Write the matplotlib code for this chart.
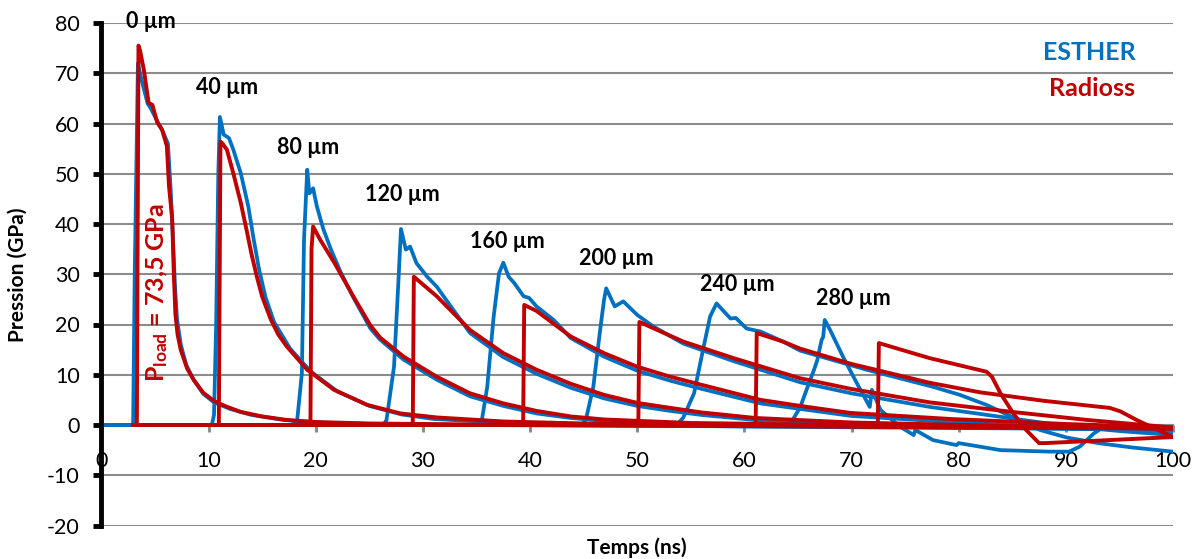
import matplotlib
matplotlib.use("Agg")
import matplotlib.pyplot as plt

plt.rcParams['font.family'] = ['Lato', 'DejaVu Sans']
plt.rcParams['axes.unicode_minus'] = False
plt.rcParams['mathtext.fontset'] = 'custom'
plt.rcParams['mathtext.bf'] = 'Lato:bold'
plt.rcParams['mathtext.rm'] = 'Lato'

# ---------------- data (time in ns, pressure in GPa) ----------------
# ESTHER (blue)
E0_T = [0, 2.95, 3.1, 3.4, 3.7, 4.3, 4.6, 5.2, 5.7, 6.2, 6.45, 6.65, 6.85, 7.05, 7.4, 7.9, 8.6, 9.5, 10.5, 12, 14, 17, 20, 25, 35, 50, 100]
E0_P = [0, 0, 30, 72, 69, 64, 63, 60.5, 58.5, 56, 47, 38, 28, 21, 16, 12, 9, 6.2, 4.5, 3.2, 2.0, 1.0, 0.5, 0.2, 0, -0.2, -0.5]

E40_T = [0, 10.3, 10.5, 10.7, 10.9, 11.05, 11.4, 11.9, 12.3, 13.0, 13.7, 14.2, 14.7, 15.3, 16.1, 17.6, 19.5, 22, 25, 28, 31, 37, 45, 60, 80, 100]
E40_P = [0, 0, 2, 20, 50, 61.3, 57.8, 57.1, 54.8, 50.1, 43.5, 37, 31, 25.5, 20.5, 15.2, 10.7, 6.7, 3.8, 2.1, 1.2, 0.5, 0.1, -0.3, -0.6, -0.9]

E80_T = [0, 17.8, 18.25, 18.7, 18.9, 19.2, 19.4, 19.75, 20.1, 20.7, 21.4, 22.3, 23.5, 25.1, 26, 28.2, 31.3, 34.4, 37.5, 40.6, 43.8, 47, 55, 70, 85, 100]
E80_P = [0, 0, 0.7, 10.3, 36.9, 50.8, 46.1, 47.1, 43.5, 39.0, 35.0, 30.5, 25.4, 19.2, 17, 13, 9.0, 5.7, 3.8, 2.3, 1.4, 0.8, 0.2, -0.3, -0.6, -1.0]

E120_T = [0, 26.3, 26.6, 27.3, 27.7, 27.95, 28.4, 28.8, 29.4, 30.4, 31.3, 32.6, 34.4, 37.5, 40.6, 43.8, 46.9, 50, 53.1, 56, 61, 70, 85, 100]
E120_P = [0, 0, 1, 11.6, 28.2, 39.0, 34.9, 35.5, 32.2, 29.5, 27.5, 23.6, 18.3, 13.5, 10.2, 7.4, 5.3, 3.8, 2.8, 2.0, 1.0, 0.2, -0.5, -1.0]

E160_T = [0, 35.2, 35.5, 36, 36.6, 37.1, 37.5, 38.0, 38.5, 39.4, 39.9, 40.6, 42.2, 43.8, 46.9, 50, 53.1, 56, 61.5, 65.2, 70, 80, 90, 100]
E160_P = [0, 0, 1, 7.6, 21.6, 30.2, 32.3, 29.5, 28.3, 25.6, 25.3, 23.6, 20.9, 17.3, 13.6, 10.8, 8.8, 7.2, 4.3, 3.2, 1.8, 0.5, -0.5, -1.2]

E200_T = [0, 44.8, 45.2, 45.9, 46.5, 46.9, 47.1, 47.9, 48.7, 50, 51.5, 54.3, 59, 65.2, 70, 77.3, 82, 86, 90, 95, 100]
E200_P = [0, 0, 1, 7.6, 18.3, 24.9, 27.2, 23.6, 24.6, 21.9, 19.6, 16.2, 12.7, 8.5, 6.3, 3.6, 2.2, 1.0, -0.2, -1.2, -2.0]

E240_T = [0, 53.7, 54.3, 55.3, 56.2, 56.8, 57.4, 58.0, 58.7, 59.2, 60.2, 61.5, 63.6, 65.2, 71.4, 77.6, 80.1, 82.6, 85.1, 87.6, 90.1, 93, 96.3, 100]
E240_P = [0, 0, 1.5, 6.3, 15.6, 21.6, 24.2, 22.8, 21.2, 21.3, 19.2, 18.6, 16.6, 14.8, 11.0, 7.6, 6.0, 4.0, 1.5, -1.0, -2.5, -3.6, -4.5, -5.3]

E280_T = [0, 64.0, 64.5, 65.2, 65.8, 66.5, 66.8, 67.2, 67.35, 67.5, 68.0, 69.2, 70.5, 71.7, 71.9, 72.7, 74.5, 75.8, 75.95, 77.6, 79.8, 80.0, 83.9, 88.5, 90.3, 91.3, 92.6, 93.3, 96, 100]
E280_P = [0, 0, 1.0, 3.5, 7.0, 11, 12.9, 16.9, 17.5, 20.9, 18.9, 13.6, 8.3, 3.6, 7.0, 3.0, -0.3, -2.0, -1.0, -3.0, -4.0, -3.6, -5.0, -5.3, -5.3, -4.3, -1.7, -0.7, -1.0, -1.5]

# Radioss (red)
R0_T = [3.0, 3.3, 3.45, 3.6, 3.95, 4.4, 4.75, 5.2, 5.65, 6.1, 6.3, 6.6, 6.75, 6.9, 7.1, 7.4, 8.0, 8.6, 9.5, 10.5, 11.5, 13, 15, 17.3, 20, 25, 40, 60, 80, 100]
R0_P = [0, 0, 75.5, 74.5, 70.7, 64.1, 63.7, 60.2, 58.8, 55.5, 47.5, 41, 30, 22, 18, 14.9, 11.2, 9.0, 6.4, 4.8, 3.8, 2.6, 1.7, 1.0, 0.6, 0.3, 0, -0.2, -0.5, -0.7]

R40_T = [3.0, 10.95, 11.1, 11.3, 11.7, 12.3, 13.0, 13.6, 14.0, 14.5, 15.0, 15.8, 16.5, 17.3, 19.2, 21.7, 24.8, 27.9, 31.3, 37.5, 45, 60, 80, 100]
R40_P = [0, 0, 56.4, 56.0, 54.8, 50.1, 44.2, 38.2, 34, 29.5, 25.5, 21, 18, 15.6, 11.0, 7.0, 4.0, 2.3, 1.5, 0.7, 0.3, 0, -0.3, -0.7]

R80_T = [3.0, 19.5, 19.6, 19.75, 20.4, 21.7, 23.5, 25.1, 26.0, 28.2, 31.3, 34.4, 37.5, 40.6, 43.8, 46.9, 55, 70, 85, 100]
R80_P = [0, 0, 35, 39.5, 36.9, 32.4, 25.6, 19.8, 17.4, 13.6, 9.6, 6.3, 4.3, 2.8, 1.7, 1.1, 0.4, 0, -0.4, -0.7]

R120_T = [3.0, 29.05, 29.15, 31.3, 34.4, 37.5, 40.6, 43.8, 46.9, 50, 53.1, 56, 61, 70, 85, 100]
R120_P = [0, 0, 29.5, 25.6, 18.9, 14.3, 11.0, 8.2, 6.0, 4.4, 3.4, 2.5, 1.4, 0.5, -0.2, -0.6]

R160_T = [3.0, 39.35, 39.45, 40.6, 43.8, 46.9, 50, 53.1, 56, 61.5, 65.2, 69.9, 79.2, 90, 100]
R160_P = [0, 0, 23.9, 22.7, 17.6, 14.3, 11.6, 9.6, 8.0, 5.0, 3.8, 2.4, 1.2, 0.2, -0.5]

R200_T = [3.0, 50.1, 50.2, 54.3, 59, 65.2, 69.9, 77.3, 85, 92, 100]
R200_P = [0, 0, 20.5, 16.6, 13.3, 9.3, 7.2, 4.5, 2.6, 1.0, -0.5]

R240_T = [3.0, 61.05, 61.15, 63.6, 65.2, 69.9, 77.3, 82, 88, 94.1, 95.1, 96.6, 100]
R240_P = [0, 0, 18.3, 16.6, 15.2, 12.2, 8.4, 6.5, 4.8, 3.4, 2.7, 1.0, -2.4]

R280_T = [3.0, 72.45, 72.55, 77.3, 82.6, 83.1, 83.9, 85.1, 86.3, 87.5, 88.1, 100]
R280_P = [0, 0, 16.3, 13.3, 10.6, 9.6, 6.3, 2.3, -1.0, -3.6, -3.6, -2.4]

ESTHER = [(E0_T, E0_P), (E40_T, E40_P), (E80_T, E80_P), (E120_T, E120_P),
          (E160_T, E160_P), (E200_T, E200_P), (E240_T, E240_P), (E280_T, E280_P)]
RADIOSS = [(R0_T, R0_P), (R40_T, R40_P), (R80_T, R80_P), (R120_T, R120_P),
           (R160_T, R160_P), (R200_T, R200_P), (R240_T, R240_P), (R280_T, R280_P)]

THICKNESS_LABELS = ["0 µm", "40 µm", "80 µm", "120 µm", "160 µm", "200 µm", "240 µm", "280 µm"]
LABEL_X = [4.6, 11.7, 19.3, 28.1, 37.9, 48.0, 59.3, 70.2]
LABEL_Y = [80.3, 67.1, 55.2, 45.8, 36.5, 33.2, 27.9, 25.1]

X_TICKS = [0, 10, 20, 30, 40, 50, 60, 70, 80, 90, 100]
Y_TICKS = [-20, -10, 0, 10, 20, 30, 40, 50, 60, 70, 80]
Y_TICK_LABELS = ["-20", "-10", "0", "10", "20", "30", "40", "50", "60", "70", "80"]

BLUE = "#0070C0"
RED = "#C00000"

# ---------------- figure ----------------
W, H = 1201, 559
fig = plt.figure(figsize=(W / 100, H / 100), dpi=100)
x0, x1 = 101.5, 1173
y_top, y_bot = 23, 525.5
ax = fig.add_axes([x0 / W, 1 - y_bot / H, (x1 - x0) / W, (y_bot - y_top) / H])

for t, p in ESTHER:
    ax.plot(t, p, color=BLUE, lw=2.7, zorder=3, solid_joinstyle='round')
for t, p in RADIOSS:
    ax.plot(t, p, color=RED, lw=2.8, zorder=4, solid_joinstyle='round')

ax.set_xlim(0, 100)
ax.set_ylim(-20, 80)
ax.set_xticks(X_TICKS)
ax.set_xticklabels([str(v) for v in X_TICKS])
ax.set_yticks(Y_TICKS)
ax.set_yticklabels(Y_TICK_LABELS)

ax.set_axisbelow(True)
ax.grid(axis='y', color='#8c8c8c', lw=1.5)
ax.grid(axis='x', visible=False)

for s in ['top', 'right']:
    ax.spines[s].set_visible(False)
ax.spines['left'].set_color('black')
ax.spines['left'].set_linewidth(3.5)
ax.spines['left'].set_zorder(5)
ax.spines['bottom'].set_position(('data', 0))
ax.spines['bottom'].set_color('#8c8c8c')
ax.spines['bottom'].set_linewidth(1.5)

ax.tick_params(axis='y', direction='out', length=5.8, width=3.5, color='black',
               pad=10, labelsize=15.5)
ax.tick_params(axis='x', direction='out', length=5, width=2.2, color='#8c8c8c',
               pad=14, labelsize=15.5)

for lab, lx, ly in zip(THICKNESS_LABELS, LABEL_X, LABEL_Y):
    ax.text(lx, ly, lab, fontsize=15.5, fontweight='bold', ha='center', va='center',
            color='black', zorder=6, clip_on=False)

ax.text(96.5, 74.1, "ESTHER", color=BLUE, fontsize=18, fontweight='bold', ha='right', va='center')
ax.text(96.5, 66.9, "Radioss", color=RED, fontsize=18, fontweight='bold', ha='right', va='center')

ax.text(5.15, 26.3, r"$\mathbf{P_{load}}$ = 73,5 GPa", color=RED, fontsize=18,
        fontweight='bold', rotation=90, ha='center', va='center', zorder=6)

fig.text(637 / W, 1 - 548 / H, "Temps (ns)", fontsize=15, fontweight='bold',
         ha='center', va='center')
fig.text(18 / W, 1 - 275 / H, "Pression (GPa)", fontsize=15, fontweight='bold',
         ha='center', va='center', rotation=90)

fig.savefig("out.png", dpi=100)
